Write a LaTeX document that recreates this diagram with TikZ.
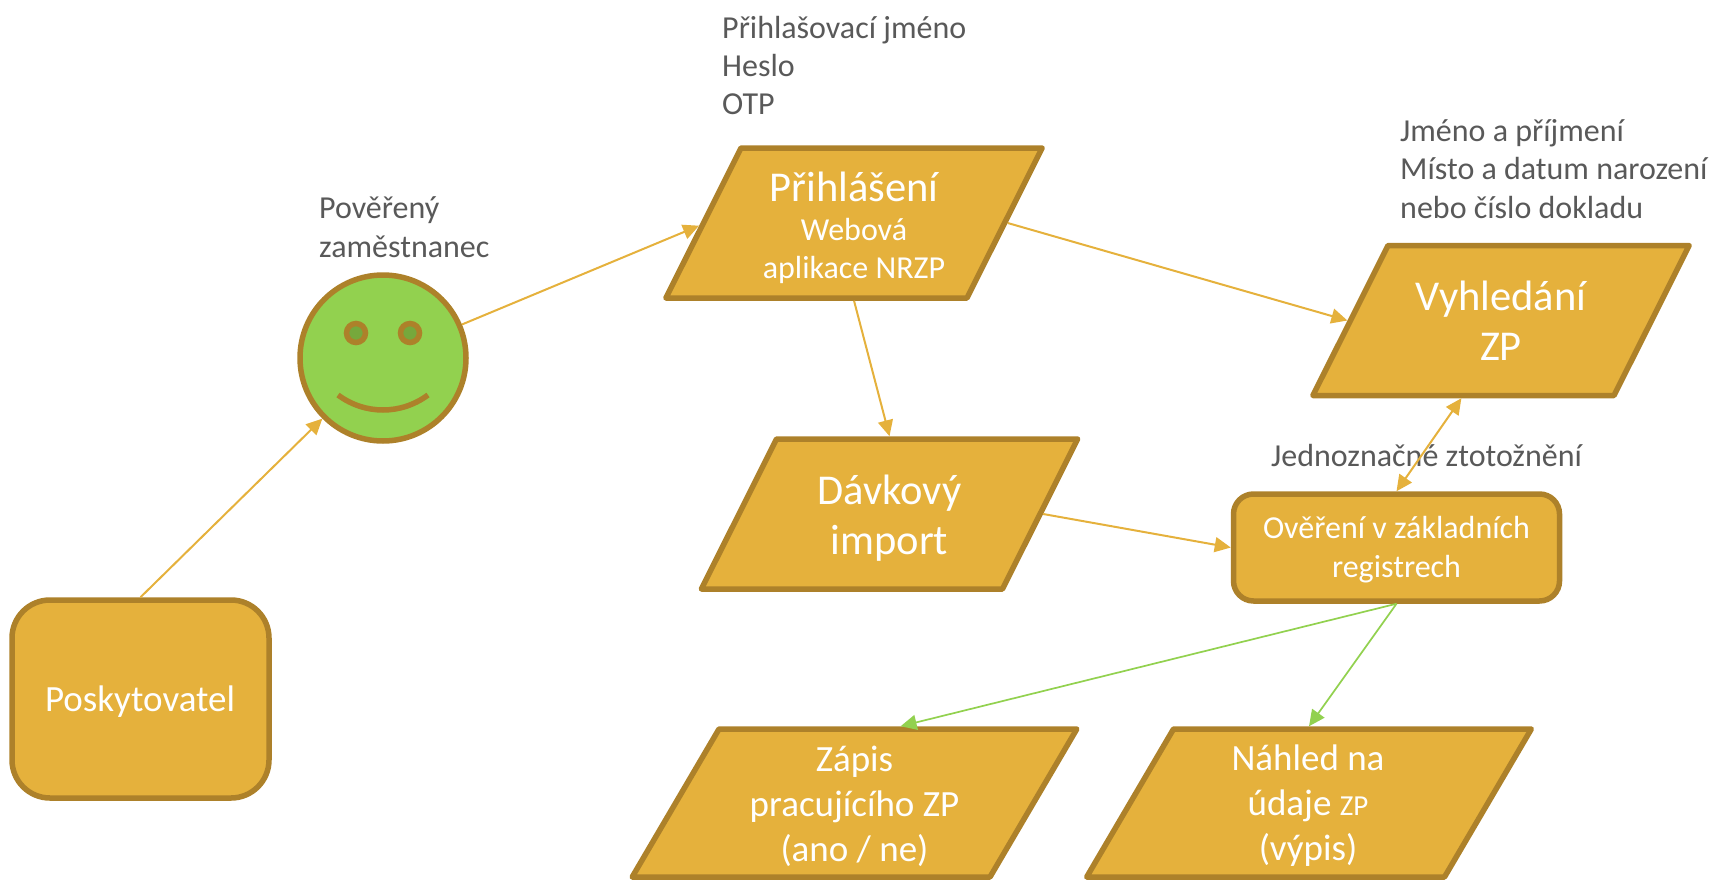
\documentclass[tikz,border=0pt]{standalone}
\usepackage{fontspec}
\setmainfont{Carlito}
\usetikzlibrary{shapes.geometric,arrows.meta}
\definecolor{boxfill}{HTML}{E5B13C}
\definecolor{boxedge}{HTML}{AD812A}
\definecolor{facegreen}{HTML}{92D14F}
\definecolor{eyegreen}{HTML}{76A83C}
\definecolor{graytext}{HTML}{595959}
\newcommand{\fs}[2]{\fontsize{#1}{#2}\selectfont}
\newcommand{\seedhi}{\phantom{\rule{226pt}{150pt}}}
\newcommand{\seedlo}{\phantom{\rule{271pt}{148pt}}}
\tikzset{
  para/.style={draw=boxedge,fill=boxfill,line width=5.5pt,line join=round,trapezium,inner sep=0pt,trapezium left angle=63.4,trapezium right angle=116.6},
  paralow/.style={para,trapezium left angle=59.6,trapezium right angle=120.4},
  roundbox/.style={draw=boxedge,fill=boxfill,line width=5.5pt,inner sep=0pt},
  wtext/.style={text=white,align=center,inner sep=0pt},
  gtext/.style={text=graytext,align=left,inner sep=0pt,anchor=west,font=\fs{32}{38.4}},
  conn/.style={-{Triangle[length=16pt,width=15pt]},line width=2pt,color=boxfill},
  conngreen/.style={conn,color=facegreen},
  eye/.style={circle,draw=boxedge,fill=eyegreen,line width=5.5pt,minimum size=19pt,inner sep=0pt},
}
\begin{document}
\begin{tikzpicture}[x=1pt,y=-1pt]
\useasboundingbox (0,0) rectangle (1712,880);
\begin{scope}
\clip (0,0) rectangle (1712,880);
\node[roundbox,rounded corners=38pt,minimum width=257pt,minimum height=198pt] (posk) at (140.5,699) {};
\node[circle,draw=boxedge,fill=facegreen,line width=5.5pt,minimum size=166pt,inner sep=0pt] (face) at (383,358) {};
\node[eye] (eyel) at (356,333) {};
\node[eye] (eyer) at (410,333) {};
\draw[boxedge,line width=5.5pt] (338,395) .. controls (365,415) and (401,415) .. (428,395);
\node[para] (prihl) at (854,223) {\seedhi};
\node[para] (vyhl) at (1501,320.5) {\seedhi};
\node[para] (davk) at (889.5,514) {\seedhi};
\node[roundbox,rounded corners=20pt,minimum width=326pt,minimum height=107pt] (over) at (1396.5,547.5) {};
\node[paralow] (zapis) at (854.5,803) {\seedlo};
\node[paralow] (nahled) at (1309,803) {\seedlo};

\node[wtext,font=\fs{37}{40}] (t1) at (140,702) {Poskytovatel};
\node[wtext,font=\fs{42.5}{46}] (t2) at (854,187) {Přihlášení};
\node[wtext,font=\fs{32}{38}] (t3) at (854,251) {Webová\\aplikace NRZP};
\node[wtext,font=\fs{42.5}{50}] (t4) at (1501,321) {Vyhledání\\ZP};
\node[wtext,font=\fs{42.5}{50}] (t5) at (889.5,518) {Dávkový\\import};
\node[wtext,font=\fs{32}{39}] (t6) at (1396.5,549.5) {Ověření v základních\\registrech};
\node[wtext,font=\fs{37}{45}] (t7) at (854.5,806) {Zápis\\pracujícího ZP\\(ano / ne)};
\node[wtext,font=\fs{37}{45}] (t8) at (1308,806) {Náhled na\\údaje {\fs{29}{45}ZP}\\(výpis)};

\node[gtext] (l1) at (722,65.5) {Přihlašovací jméno\\Heslo\\OTP};
\node[gtext] (l2) at (319,227) {Pověřený\\zaměstnanec};
\node[gtext] (l3) at (1400,169) {Jméno a příjmení\\Místo a datum narození\\nebo číslo dokladu};
\node[gtext] (l4) at (1271,456) {Jednoznačné ztotožnění};

\draw[conn] (posk.north) -- (face.225);
\draw[conn] (face.23) -- (prihl.181);
\draw[conn] (prihl.0) -- (vyhl.180);
\draw[conn] (prihl.south) -- (davk.north);
\draw[conn] (davk.0) -- (over.west);
\draw[conn,{Triangle[length=16pt,width=15pt]}-{Triangle[length=16pt,width=15pt]}] (over.north) -- (vyhl.243.6);
\draw[conngreen,line width=1.7pt] (over.south) -- (zapis.59);
\draw[conngreen,line width=1.7pt] (over.south) -- (nahled.north);
\end{scope}
\end{tikzpicture}
\end{document}
